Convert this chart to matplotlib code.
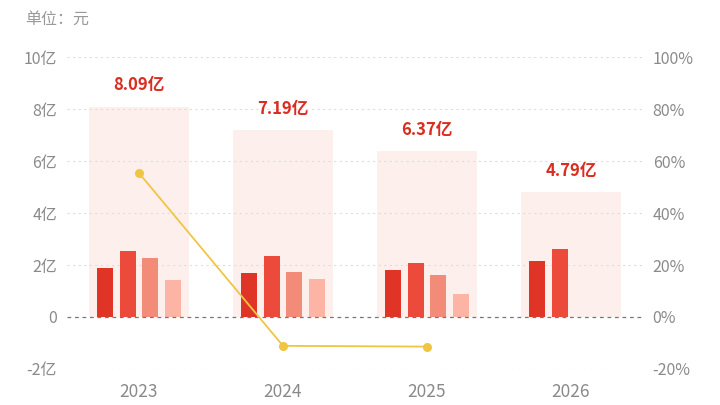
import matplotlib
matplotlib.use("Agg")
import matplotlib.pyplot as plt
import numpy as np

plt.rcParams['font.family'] = ['Noto Sans CJK SC', 'DejaVu Sans']

# data (亿元)
years = ["2023", "2024", "2025", "2026"]
totals = [8.09, 7.19, 6.37, 4.79]
q1 = [1.88, 1.69, 1.82, 2.16]
q2 = [2.52, 2.33, 2.08, 2.63]
q3 = [2.26, 1.72, 1.60, None]
q4 = [1.44, 1.45, 0.87, None]
growth_years = ["2023", "2024", "2025"]
growth = [55.4, -11.1, -11.4]

left_ticks = [-2, 0, 2, 4, 6, 8, 10]
right_ticks = [-20, 0, 20, 40, 60, 80, 100]

bg_color = "#fdf0ec"
q_colors = ["#e03526", "#ec4b3b", "#f28b78", "#fcb5a5"]
line_color = "#f0c542"
label_color = "#d92d20"
tick_color = "#8a8a8a"

fig = plt.figure(figsize=(7.2, 4.05), dpi=100)
ax = fig.add_axes([0.093, 0.089, 0.8, 0.77])
x = np.arange(len(years))

# background totals
ax.bar(x, totals, width=0.70, color=bg_color, zorder=1)
for xi, t in zip(x, totals):
    ax.annotate(f"{t:.2f}亿", (xi, t), xytext=(0, 9), textcoords="offset points",
                ha="center", va="bottom", color=label_color, fontsize=12,
                fontweight="bold")

# quarterly bars
step = 0.158
w = 0.112
for i, (vals, c) in enumerate(zip([q1, q2, q3, q4], q_colors)):
    xs = [xi + (i - 1.5) * step for xi, v in zip(x, vals) if v is not None]
    vs = [v for v in vals if v is not None]
    ax.bar(xs, vs, width=w, color=c, zorder=3)

ax.set_xlim(-0.5, 3.5)
ax.set_ylim(-2, 10)
ax.set_yticks(left_ticks)
ax.set_yticklabels([("0" if v == 0 else f"{v}亿") for v in left_ticks])
ax.set_xticks(x)
ax.set_xticklabels(years)
for v in left_ticks:
    if v == 0:
        ax.axhline(0, color="#777777", lw=0.9, ls=(0, (3, 3)), zorder=4)
    else:
        ax.axhline(v, color="#dddddd", lw=0.8, ls=(0, (2, 3)), zorder=2)

for s in ax.spines.values():
    s.set_visible(False)
ax.tick_params(axis="both", length=0, colors=tick_color, labelsize=11.5)
ax.tick_params(axis="x", pad=10, labelsize=12.5)
ax.tick_params(axis="y", pad=7)

# growth line on right axis
ax2 = ax.twinx()
ax2.set_ylim(-20, 100)
ax2.set_yticks(right_ticks)
ax2.set_yticklabels([f"{v}%" for v in right_ticks])
gx = [years.index(y) for y in growth_years]
ax2.plot(gx, growth, color=line_color, lw=1.3, marker="o", markersize=5.5, zorder=5)
for s in ax2.spines.values():
    s.set_visible(False)
ax2.tick_params(axis="y", length=0, colors=tick_color, labelsize=11.5, pad=7)

fig.text(0.035, 0.953, "单位：元", color="#999999", fontsize=11.5, va="center")

fig.savefig("out.png", dpi=100)
